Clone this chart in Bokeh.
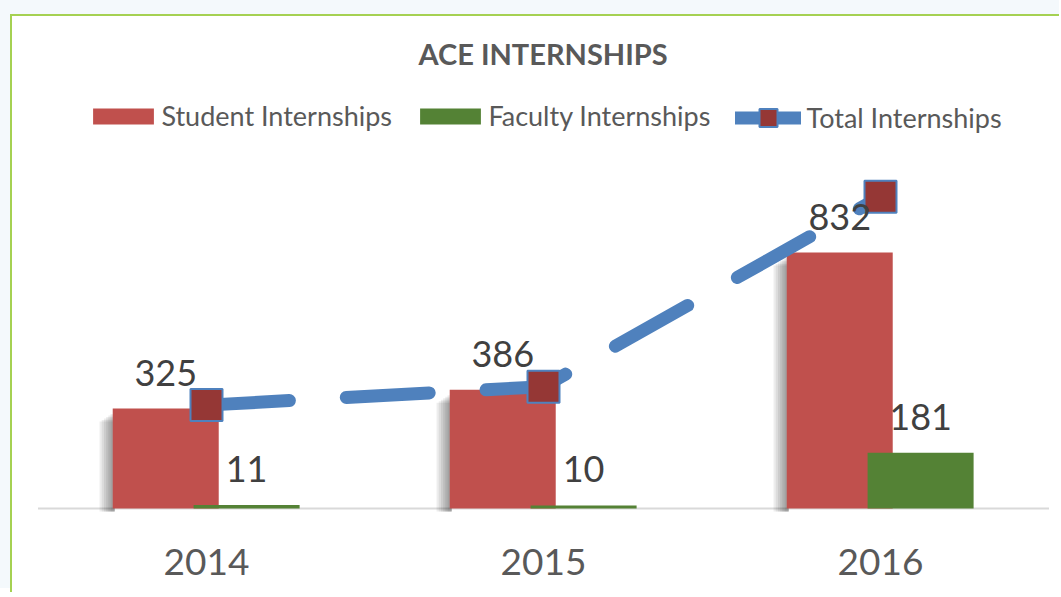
from bokeh.plotting import figure
from bokeh.models import Range1d, FixedTicker, Legend, LegendItem
from bokeh.core.properties import value
from bokeh.embed import file_html
from bokeh.resources import INLINE

# ---- data ----
years = ["2014", "2015", "2016"]
student = [325, 386, 832]
faculty = [11, 10, 181]
total = [s + f for s, f in zip(student, faculty)]

# ---- geometry (canvas px) ----
W, H = 1049, 578
FT, FB = 54, 500
BASE = 492
PXY = 256 / 832
PXX = 337
X0 = 194

x_start = -X0 / PXX
x_end = x_start + W / PXX
y_start = -(FB - BASE) / PXY
y_end = (BASE - FT) / PXY

FONT = "Lato"
GRAY = "#595959"

p = figure(width=W, height=H, output_backend="svg", toolbar_location=None,
           x_range=Range1d(x_start, x_end), y_range=Range1d(y_start, y_end),
           y_axis_location=None,
           min_border_left=0, min_border_right=0,
           min_border_top=FT, min_border_bottom=H - FB,
           styles={"margin-left": "10px", "margin-top": "14px",
                   "border-left": "2px solid #A5D152",
                   "border-top": "2px solid #A5D152",
                   "box-shadow": "-10px -14px 0 10px #F4F9FC"})
p.outline_line_color = None
p.xgrid.visible = False
p.ygrid.visible = False
p.background_fill_color = "white"
p.border_fill_color = "white"

xs = list(range(len(years)))
BW = 106 / PXX
OFF_S = -0.121
OFF_F = 0.119

# baseline
p.segment(x0=[-0.5], y0=[0], x1=[2.5], y1=[0], line_color="#D9D9D9", line_width=2)

# soft shadow to the left of student bars
for k in range(1, 7):
    p.quad(left=[x + OFF_S - BW / 2 - k * 2.2 / PXX for x in xs],
           right=[x + OFF_S - BW / 2 + 2 / PXX for x in xs],
           top=[s - (4 + 1.5 * k) / PXY for s in student],
           bottom=[-3 / PXY] * len(xs),
           fill_color="black", fill_alpha=0.07, line_color=None)

sbar = p.vbar(x=[x + OFF_S for x in xs], width=BW, top=student,
              fill_color="#C0504D", line_color=None)
fbar = p.vbar(x=[x + OFF_F for x in xs], width=BW, top=faculty,
              fill_color="#548235", line_color=None)

tline = p.line(xs, total, line_width=13, line_color="#4F81BD",
               line_dash="83 57", line_cap="round", line_join="round")
tmark = p.scatter(xs, total, marker="square", size=32, fill_color="#953735",
                  line_color="#4F81BD", line_width=2)

LOFF = 36 / PXY
p.text(x=[x + OFF_S for x in xs], y=[v + LOFF for v in student],
       text=[str(v) for v in student], text_align="center",
       text_baseline="middle", text_font=value(FONT),
       text_font_size="36px", text_color="#404040")
p.text(x=[x + OFF_F for x in xs], y=[v + LOFF for v in faculty],
       text=[str(v) for v in faculty], text_align="center",
       text_baseline="middle", text_font=value(FONT),
       text_font_size="36px", text_color="#404040")

# x axis
ax = p.xaxis[0]
ax.ticker = FixedTicker(ticks=xs)
ax.major_label_overrides = {i: y for i, y in enumerate(years)}
ax.major_tick_line_color = None
ax.minor_tick_line_color = None
ax.axis_line_color = None
ax.major_label_text_font = FONT
ax.major_label_text_font_size = "37px"
ax.major_label_text_color = GRAY
ax.major_label_standoff = 26

# title
p.title.text = "ACE INTERNSHIPS"
p.title.align = "left"
p.title.offset = 406
p.title.text_font = FONT
p.title.text_font_style = "bold"
p.title.text_font_size = "29px"
p.title.text_color = GRAY
p.title.standoff = 0

# legends (one per item so each lands where it should)
def make_legend(label, renderers, x, h, gw, gh, standoff):
    vy = (FB - 101) - h / 2
    leg = Legend(items=[LegendItem(label=label, renderers=renderers)],
                 location=(x, vy), orientation="horizontal",
                 glyph_width=gw, glyph_height=gh,
                 label_standoff=standoff,
                 padding=0, margin=0, border_line_color=None,
                 background_fill_alpha=0, label_text_font=FONT,
                 label_text_font_size="27px", label_text_color=GRAY,
                 label_text_baseline="middle")
    p.add_layout(leg)

make_legend("Student Internships", [sbar], 73.4, 30, 76, 20, 0)
make_legend("Faculty Internships", [fbar], 400.4, 30, 76, 20, 0)
make_legend("Total Internships", [tline, tmark], 722.5, 45, 66, 45, 6)

open("out.html", "w").write(file_html(p, INLINE))
